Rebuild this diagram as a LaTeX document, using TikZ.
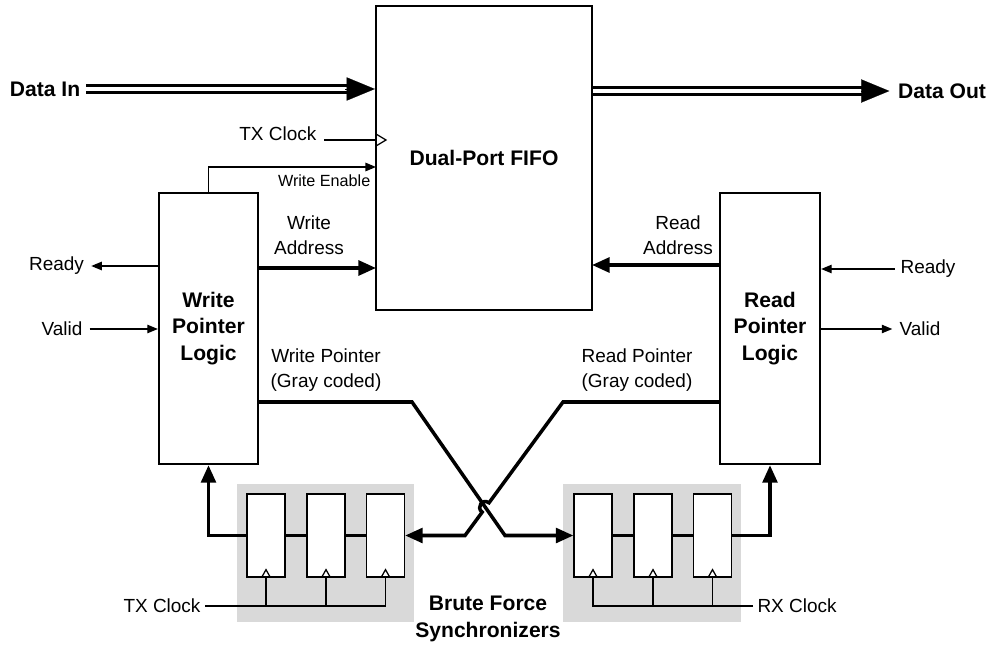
\documentclass[tikz,border=0pt]{standalone}
\usepackage{fontspec}
\setmainfont{Liberation Sans}
\usetikzlibrary{arrows.meta,positioning}

\begin{document}
\begin{tikzpicture}[x=0.025cm,y=-0.025cm,
  >={Triangle[length=7.5pt,width=6pt]},
  block/.style={draw,line width=1.6pt,fill=white},
  ffbox/.style={draw,line width=0.9pt,fill=white,minimum width=0.95cm,minimum height=2.075cm,inner sep=0pt},
  syncbg/.style={fill=gray!30,minimum width=4.425cm,minimum height=3.45cm,inner sep=0pt},
  lbl/.style={font=\fontsize{13.5}{17.5}\selectfont,align=center,inner sep=1pt},
  slbl/.style={font=\fontsize{11.5}{14}\selectfont,inner sep=1pt},
  blbl/.style={font=\bfseries\fontsize{15}{19}\selectfont,align=center,inner sep=1pt},
  sig/.style={line width=0.9pt},
  bus/.style={line width=2.5pt},
  busarrow/.style={bus,-{Triangle[length=12.5pt,width=10.5pt]}},
  wide/.style={double,line width=2.3pt,double distance=2.6pt},
  widetip/.style={line width=0.1pt,-{Triangle[length=20pt,width=16.5pt]}}]
  \useasboundingbox (0,0) rectangle (997,656);

  % main blocks
  \node[block,blbl,minimum width=5.4cm,minimum height=7.6cm] (fifo) at (484,158) {Dual-Port FIFO};
  \node[block,blbl,minimum width=2.475cm,minimum height=6.775cm] (wpl) at (208.5,328.5) {Write\\Pointer\\Logic};
  \node[block,blbl,minimum width=2.5cm,minimum height=6.775cm] (rpl) at (770,328.5) {Read\\Pointer\\Logic};

  % synchronizers
  \node[syncbg] (wsync) at (325.5,553) {};
  \node[syncbg] (rsync) at (652,553) {};
  \foreach \i/\x in {1/266,2/326,3/385.5}
    \node[ffbox] (wff\i) at (\x,535.5) {};
  \foreach \i/\x in {1/593,2/653,3/712.5}
    \node[ffbox] (rff\i) at (\x,535.5) {};
  \foreach \i in {1,2,3} {
    \draw[sig] (wff\i.south) ++(-4.5,0) -- ++(4.5,-8) -- ++(4.5,8);
    \draw[sig] (rff\i.south) ++(-4.5,0) -- ++(4.5,-8) -- ++(4.5,8);
  }
  \node[blbl] (bflbl) at (488,619) {Brute Force\\Synchronizers};

  % data in / out
  \node[blbl,inner xsep=4pt] (din) at (45,89) {Data In};
  \coordinate (dinend) at (fifo.west |- din.east);
  \draw[wide,shorten >=19pt] (din.east) -- (dinend);
  \draw[widetip] ([xshift=-21pt]dinend) -- (dinend);
  \node[blbl] (dout) at (942,91) {Data Out};
  \coordinate (doutst) at (fifo.east |- dout.west);
  \coordinate (douttip) at ([xshift=-5pt]dout.west);
  \draw[wide] (doutst) -- ([xshift=-18pt]douttip);
  \draw[widetip] ([xshift=-20pt]douttip) -- (douttip);

  % clock and write enable into the FIFO
  \node[lbl,anchor=base east] (txclk) at (318,141) {TX Clock};
  \coordinate (clkin) at (376,140);
  \draw[sig] (txclk.east |- clkin) ++(6,0) -- (clkin);
  \draw[sig] (clkin) ++(0,-6) -- ++(10,6) -- ++(-10,6);
  \coordinate (we) at (376,167);
  \draw[sig,->] (wpl.north) |- (we);
  \node[slbl,anchor=east] (welbl) at (372,181) {Write Enable};

  % addresses
  \coordinate (waddr) at (376,268);
  \draw[busarrow] (wpl.east |- waddr) -- (waddr);
  \node[lbl] (waddrlbl) at (309,235) {Write\\Address};
  \coordinate (raddr) at (592,265);
  \draw[busarrow] (rpl.west |- raddr) -- (raddr);
  \node[lbl] (raddrlbl) at (678,235) {Read\\Address};

  % handshakes
  \node[lbl,inner xsep=5pt] (wrdy) at (56.5,266) {Ready};
  \draw[sig,->] (wpl.west |- wrdy) -- (wrdy.east);
  \node[lbl,inner xsep=5pt] (wvld) at (62,329) {Valid};
  \draw[sig,->] (wvld.east) -- (wpl.west |- wvld);
  \node[lbl,inner xsep=4pt] (rrdy) at (928,269) {Ready};
  \draw[sig,->] (rrdy.west) -- (rpl.east |- rrdy);
  \node[lbl,inner xsep=5pt] (rvld) at (920,329) {Valid};
  \draw[sig,->] (rpl.east |- rvld) -- (rvld.west);

  % gray coded pointers
  \node[lbl] (wptrlbl) at (326,370) {Write Pointer\\(Gray coded)};
  \node[lbl] (rptrlbl) at (637,370) {Read Pointer\\(Gray coded)};
  \coordinate (wbend1) at (412,402);
  \coordinate (wbend2) at (505,535.5);
  \draw[busarrow] (wpl.east |- wbend1) -- (wbend1) -- (wbend2) -- (rff1.west);
  \coordinate (rbend1) at (563,402);
  \coordinate (hopa) at (489,502.8);
  \coordinate (hopb) at (482.2,512.1);
  \coordinate (rbend2) at (465,535.5);
  \draw[busarrow] (rpl.west |- rbend1) -- (rbend1) -- (hopa)
    .. controls +(-6.5,-4.7) and +(-6.5,-4.7) .. (hopb) -- (rbend2) -- (wff3.east);

  % synchronizer chains
  \draw[bus] (wff3.west) -- (wff2.east);
  \draw[bus] (wff2.west) -- (wff1.east);
  \draw[busarrow] (wff1.west) -| (wpl.south);
  \draw[bus] (rff1.east) -- (rff2.west);
  \draw[bus] (rff2.east) -- (rff3.west);
  \draw[busarrow] (rff3.east) -| (rpl.south);

  % synchronizer clocks
  \node[lbl,anchor=east,inner xsep=3pt] (txclkb) at (205,606) {TX Clock};
  \draw[sig] (txclkb.east) -- (wff3.south |- txclkb.east) -- (wff3.south);
  \foreach \i in {1,2}
    \draw[sig] (wff\i.south) -- (wff\i.south |- txclkb.east);
  \node[lbl,anchor=west,inner xsep=3pt] (rxclk) at (753,606) {RX Clock};
  \draw[sig] (rxclk.west) -- (rff1.south |- rxclk.west) -- (rff1.south);
  \foreach \i in {2,3}
    \draw[sig] (rff\i.south) -- (rff\i.south |- rxclk.west);
\end{tikzpicture}
\end{document}
